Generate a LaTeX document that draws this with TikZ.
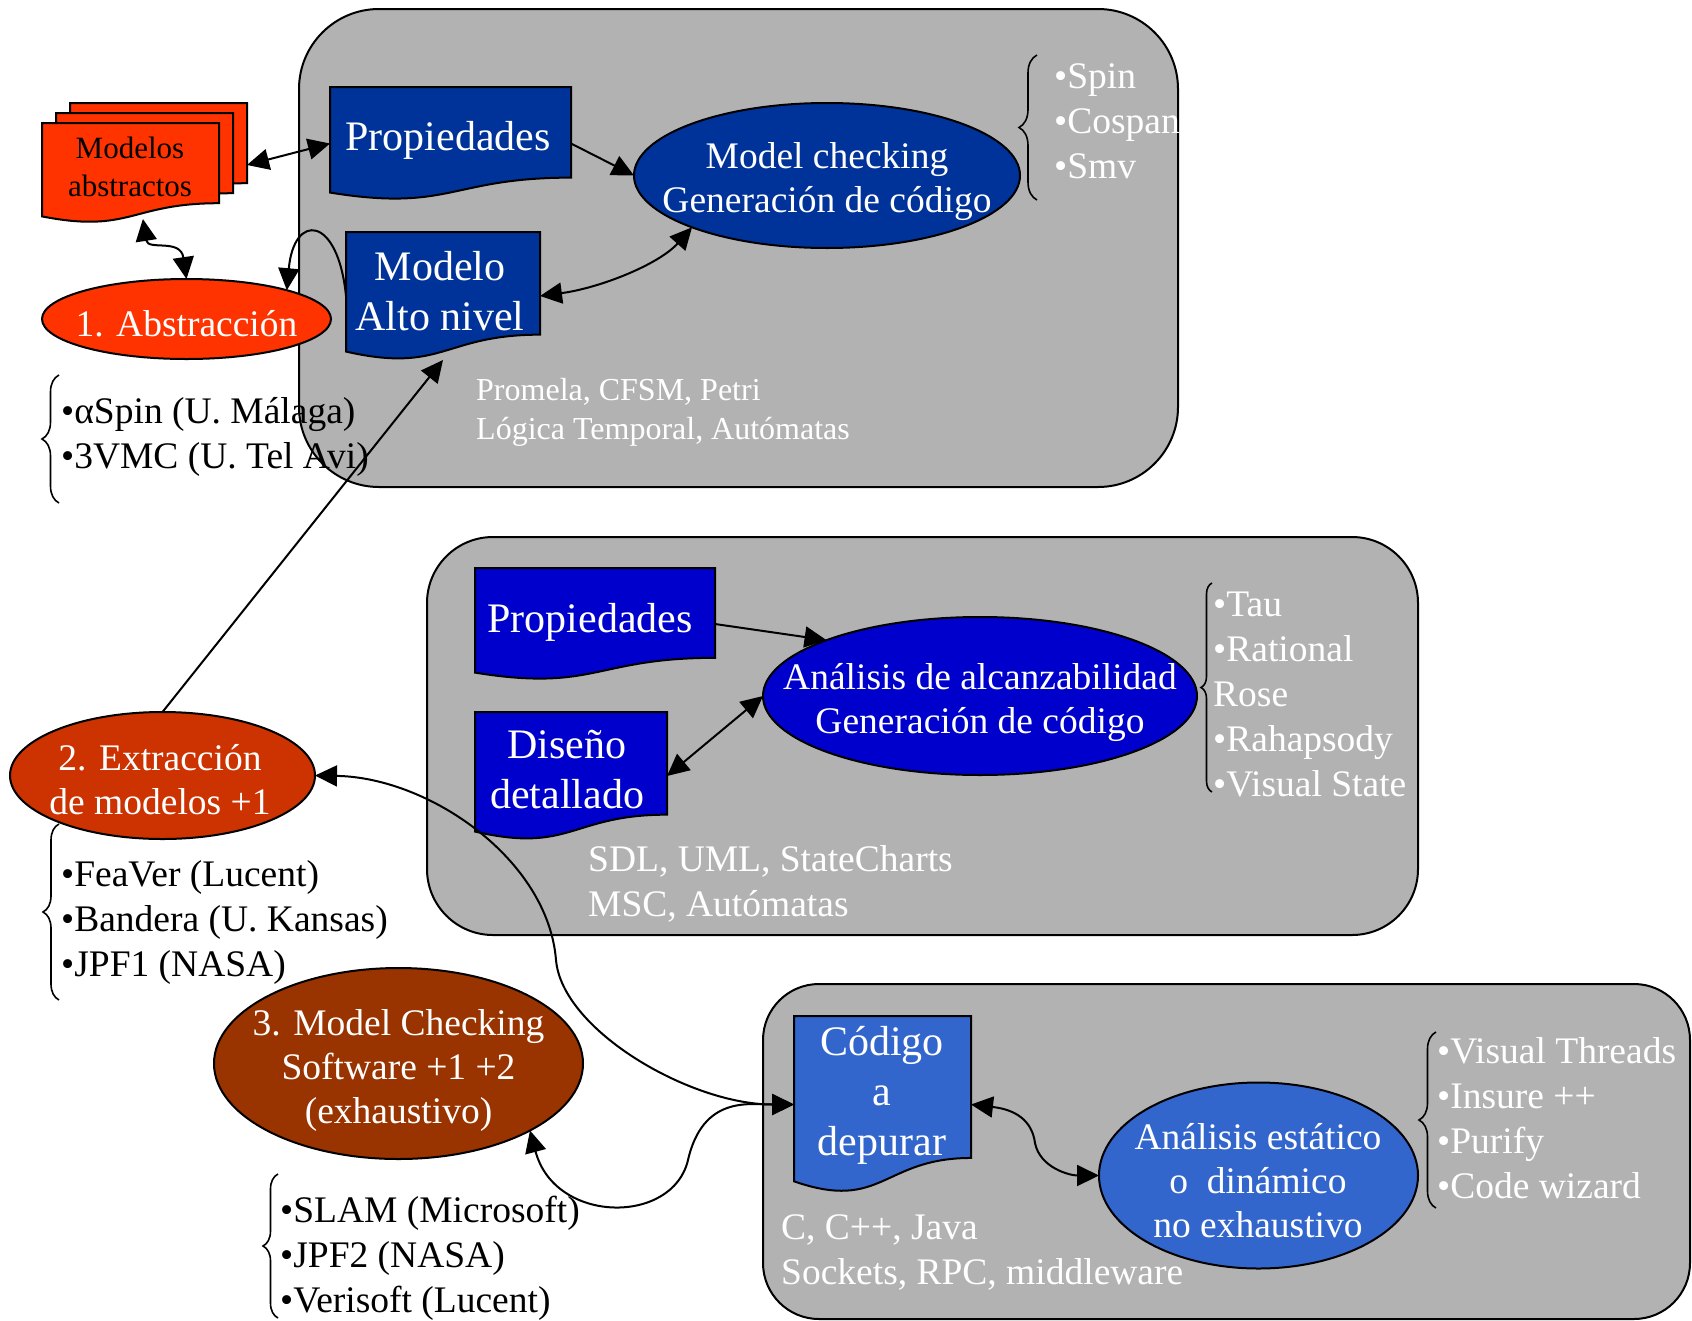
\documentclass[tikz,border=0pt]{standalone}
\usepackage{fontspec}
\setmainfont{Liberation Serif}
\usetikzlibrary{shapes.geometric,arrows.meta,decorations.pathreplacing,calc}
\definecolor{topblue}{HTML}{003399}
\definecolor{midblue}{HTML}{0000CC}
\definecolor{botblue}{HTML}{3366CC}
\definecolor{redA}{HTML}{FF3300}
\definecolor{redB}{HTML}{CC3300}
\definecolor{redC}{HTML}{993300}
\definecolor{boxgray}{HTML}{B2B2B2}
\newcommand\fdoc{\fontsize{42}{50}\selectfont}
\newcommand\fmain{\fontsize{37.5}{45}\selectfont}
\newcommand\fell{\fontsize{37.5}{44}\selectfont}
\newcommand\fsmall{\fontsize{31}{38}\selectfont}
\newcommand\fnote{\fontsize{32}{39}\selectfont}
\newcommand\docshape[2]{%
  \path[draw=black, line width=2pt, fill=#2] let \p1=(#1.north west), \p2=(#1.south east) in
  (\x1,\y1) -- (\x2,\y1) -- (\x2,{\y1+0.802*(\y2-\y1)})
  .. controls ({(\x1+\x2)/2},{\y1+0.802*(\y2-\y1)}) and ({(\x1+\x2)/2},{\y1+1.1075*(\y2-\y1)}) ..
  (\x1,{\y1+0.934*(\y2-\y1)}) -- cycle;}
\begin{document}
\begin{tikzpicture}[x=1pt,y=-1pt,
  graybox/.style={draw=black, line width=2pt, fill=boxgray, inner sep=0},
  docnode/.style={inner sep=0, outer sep=0},
  ell/.style={ellipse, draw=black, line width=2pt, inner sep=0, outer sep=0},
  wtext/.style={inner sep=0, align=center, text=white, font=\fdoc},
  ktext/.style={inner sep=0, align=center, text=black, font=\fdoc},
  wlist/.style={inner sep=0, align=left, anchor=west, text=white, font=\fmain},
  blist/.style={inner sep=0, align=left, anchor=west, text=black, font=\fmain},
  conn/.style={draw=black, line width=2pt},
  arr/.style={conn, -{Triangle[length=22pt,width=21pt]}},
  darr/.style={conn, {Triangle[length=22pt,width=21pt]}-{Triangle[length=22pt,width=21pt]}},
  brc/.style={draw=black, line width=1.6pt, decorate, decoration={brace, amplitude=#1pt}}
]
\useasboundingbox (0,0) rectangle (1692,1320);

% gray containers
\node[graybox, rounded corners=80pt, minimum width=879pt, minimum height=478pt] (g1) at (738.5,248) {};
\node[graybox, rounded corners=66pt, minimum width=991pt, minimum height=398pt] (g2) at (922.5,736) {};
\node[graybox, rounded corners=56pt, minimum width=927pt, minimum height=335pt] (g3) at (1226.5,1151.5) {};

% document shapes
\node[docnode, minimum width=177pt, minimum height=100pt] (mb3) at (158.5,153) {};
\docshape{mb3}{redA}
\node[docnode, minimum width=177pt, minimum height=100pt] (mb2) at (144.5,163) {};
\docshape{mb2}{redA}
\node[docnode, minimum width=177pt, minimum height=100pt] (mf) at (130.5,173) {};
\docshape{mf}{redA}
\node[docnode, minimum width=241pt, minimum height=113pt] (p1) at (450.5,143.5) {};
\docshape{p1}{topblue}
\node[docnode, minimum width=194pt, minimum height=128pt] (ma) at (443,296) {};
\docshape{ma}{topblue}
\node[docnode, minimum width=240pt, minimum height=112pt] (p2) at (595,624) {};
\docshape{p2}{midblue}
\node[docnode, minimum width=192pt, minimum height=128pt] (ds) at (571,776) {};
\docshape{ds}{midblue}
\node[docnode, minimum width=177pt, minimum height=177pt] (cd) at (882.5,1104.5) {};
\docshape{cd}{botblue}

% ellipses
\node[ell, fill=topblue, minimum width=386pt, minimum height=145pt] (mc) at (827,175.5) {};
\node[ell, fill=redA, minimum width=289pt, minimum height=80pt] (ab) at (186.5,319) {};
\node[ell, fill=midblue, minimum width=434pt, minimum height=158pt] (al) at (980,696) {};
\node[ell, fill=redB, minimum width=305pt, minimum height=127pt] (ex) at (162.5,775.5) {};
\node[ell, fill=redC, minimum width=369pt, minimum height=191pt] (mcs) at (398.5,1063.5) {};
\node[ell, fill=botblue, minimum width=319pt, minimum height=186pt] (an) at (1258.5,1175.5) {};

% texts of shapes
\node[wtext] (p1t) at (448,140) {Propiedades};
\node[wtext] (mat) at (440,291) {Modelo\\Alto nivel};
\node[ktext, font=\fsmall] (mft) at (130,167) {Modelos\\abstractos};
\node[wtext] (p2t) at (590,622) {Propiedades};
\node[wtext] (dst) at (567,770) {Diseño\\detallado};
\node[wtext] (cdt) at (882,1095) {Código\\a\\depurar};
\node[wtext, font=\fell] (mct) at (827,182) {Model checking\\Generación de código};
\node[wtext, font=\fell] (abt) at (186.5,324) {1. Abstracción};
\node[wtext, font=\fell] (alt) at (980,702) {Análisis de alcanzabilidad\\Generación de código};
\node[wtext, font=\fell] (ext) at (160,780) {2. Extracción\\de modelos +1};
\node[wtext, font=\fell] (mcst) at (398.5,1070) {3. Model Checking\\Software +1 +2\\(exhaustivo)};
\node[wtext, font=\fell] (ant) at (1258,1181) {Análisis estático\\o~~dinámico\\no exhaustivo};

% lists and notes
\node[wlist] (spinl) at (1054,121) {•Spin\\•Cospan\\•Smv};
\node[blist] (aspl) at (61,437) {•αSpin (U. Málaga)\\•3VMC (U. Tel Avi)};
\node[wlist] (taul) at (1213,694) {•Tau\\•Rational\\Rose\\•Rahapsody\\•Visual State};
\node[blist] (feal) at (61,922) {•FeaVer (Lucent)\\•Bandera (U. Kansas)\\•JPF1 (NASA)};
\node[blist] (slaml) at (280,1258) {•SLAM (Microsoft)\\•JPF2 (NASA)\\•Verisoft (Lucent)};
\node[wlist] (vtl) at (1437,1118) {•Visual Threads\\•Insure ++\\•Purify\\•Code wizard};
\node[wlist, font=\fnote] (proml) at (476,412) {Promela, CFSM, Petri\\Lógica Temporal, Autómatas};
\node[wlist] (sdll) at (588,884) {SDL, UML, StateCharts\\MSC, Autómatas};
\node[wlist] (ccl) at (781,1252) {C, C++, Java\\Sockets, RPC, middleware};

% braces
\draw[brc=18] (1037,200) -- (1037,55);
\draw[brc=17] (59,503) -- (59,375);
\draw[brc=11] (1212,792) -- (1212,583);
\draw[brc=16] (59,1000) -- (59,824);
\draw[brc=15] (278,1318) -- (278,1174);
\draw[brc=17] (1436,1208) -- (1436,1032);

% connectors
\draw[darr] ($(mb3.north east)!0.62!(mb3.south east)$) -- (p1.west);
\draw[darr] ($(mf.south west)!0.57!(mf.south east)+(0,-4)$) .. controls +(5,32) and +(-6,-41) .. (ab.north);
\draw[arr] (p1.east) -- (mc.west);
\draw[darr] (ma.east) .. controls +(60,-8) and +(-33,37) .. (mc.201);
\draw[arr] (ma.west) .. controls +(-8,-81) and +(7,-78) .. (ab.16);
\draw[arr] (ex.north) -- (ma.south);
\draw[arr] (p2.east) -- (al.160);
\draw[darr] (ds.east) -- (al.west);
\draw[darr] (ex.east) .. controls +(115,2) and +(-8,-100) .. (556,960) .. controls +(6,70) and +(-104,0) .. (cd.west);
\draw[darr] (mcs.-27) .. controls +(25,94) and +(-15,65) .. (688,1160) .. controls +(15,-65) and +(-44,0) .. (cd.west);
\draw[darr] (cd.east) .. controls +(44,5) and +(-3,-23) .. (1035,1143) .. controls +(5,25) and +(-29,0) .. (an.west);
\end{tikzpicture}
\end{document}
